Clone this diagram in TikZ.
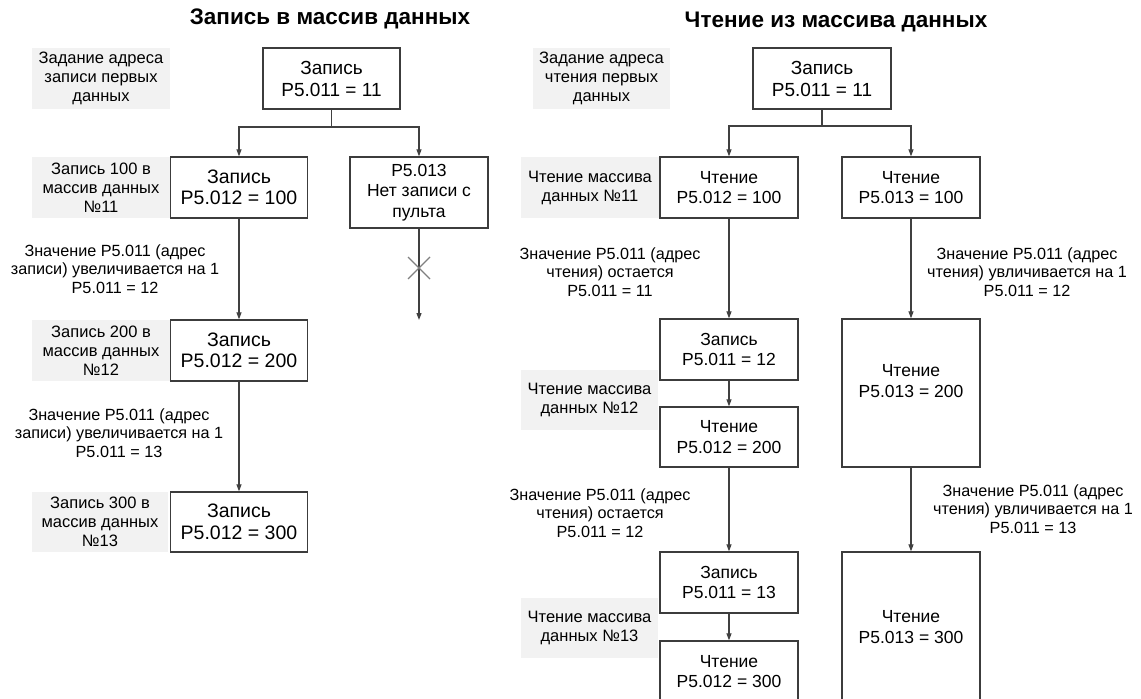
\documentclass[tikz,border=0pt]{standalone}
\usepackage{fontspec}
\setmainfont{Liberation Sans}
\usetikzlibrary{arrows.meta,calc}
\definecolor{boxc}{HTML}{3C3C3C}
\definecolor{linec}{HTML}{404040}
\definecolor{lblbg}{HTML}{F2F2F2}
\definecolor{xcol}{HTML}{808080}
\begin{document}
\begin{tikzpicture}[x=1pt,y=-1pt,
  box/.style={draw=boxc, line width=1.3pt, fill=white, align=center, inner sep=0pt, text=black},
  bigtxt/.style={font=\fontsize{19.5}{21.5}\selectfont},
  toptxt/.style={font=\fontsize{19}{22}\selectfont},
  midtxt/.style={font=\fontsize{17.5}{20.5}\selectfont},
  lbl/.style={fill=lblbg, align=center, inner sep=0pt, text=black, font=\fontsize{16.5}{19}\selectfont},
  elbl/.style={align=center, inner sep=0pt, text=black, font=\fontsize{16.2}{18.6}\selectfont},
  ttl/.style={inner sep=0pt, text=black, font=\fontsize{22.5}{26}\selectfont\bfseries},
  ln/.style={draw=linec, line width=1.2pt},
  arr/.style={draw=linec, line width=1.2pt, -{Triangle[length=7pt,width=5pt]}},
  xmark/.style={draw=xcol, line width=1.1pt}
]
\useasboundingbox (0,0) rectangle (1141,699);

% ---------------- left: write ----------------
\node[ttl] (titleL) at (330,18.5) {Запись в массив данных};

\node[box, toptxt, minimum width=137pt, minimum height=61pt] (L0) at (331.5,78.5) {Запись\\P5.011 = 11};
\node[lbl, minimum width=138pt, minimum height=61pt] (LL0) at (101,78.5) {Задание адреса\\записи первых\\данных};

\node[box, bigtxt, minimum width=137pt, minimum height=61pt] (L1) at (239,187.5) {Запись\\P5.012 = 100};
\node[lbl, minimum width=138pt, minimum height=61pt] (LL1) at (101,187.5) {Запись 100 в\\массив данных\\№11};
\node[box, midtxt, minimum width=138pt, minimum height=71pt] (L2) at (419,192.5) {P5.013\\Нет записи с\\пульта};

\coordinate (Lj) at (331.5,127);
\draw[ln] (L0.south) -- (Lj);
\draw[arr] (Lj) -| (L1.north);
\draw[arr] (Lj) -| (L2.north);

\coordinate (Lend) at (419,320);
\coordinate (Lx) at (419,268);
\draw[arr] (L2.south) -- (Lend);
\draw[xmark] ($(Lx)+(-11,-11)$) -- ($(Lx)+(11,11)$);
\draw[xmark] ($(Lx)+(-11,11)$) -- ($(Lx)+(11,-11)$);

\node[elbl] (EL1) at (115,269) {Значение P5.011 (адрес\\записи) увеличивается на 1\\P5.011 = 12};
\node[box, bigtxt, minimum width=137pt, minimum height=61pt] (L3) at (239,350.5) {Запись\\P5.012 = 200};
\node[lbl, minimum width=138pt, minimum height=61pt] (LL3) at (101,350.5) {Запись 200 в\\массив данных\\№12};
\draw[arr] (L1.south) -- (L3.north);

\node[elbl] (EL2) at (119,433) {Значение P5.011 (адрес\\записи) увеличивается на 1\\P5.011 = 13};
\node[box, bigtxt, minimum width=137pt, minimum height=60pt] (L4) at (239,522) {Запись\\P5.012 = 300};
\node[lbl, minimum width=136pt, minimum height=60pt] (LL4) at (100,522) {Запись 300 в\\массив данных\\№13};
\draw[arr] (L3.south) -- (L4.north);

% ---------------- right: read ----------------
\node[ttl] (titleR) at (836,22) {Чтение из массива данных};

\node[box, toptxt, minimum width=138pt, minimum height=61pt] (R0) at (822,78.5) {Запись\\P5.011 = 11};
\node[lbl, minimum width=137pt, minimum height=61pt] (RL0) at (601.5,78.5) {Задание адреса\\чтения первых\\данных};

\node[box, midtxt, minimum width=138pt, minimum height=61pt] (R1) at (729,187.5) {Чтение\\P5.012 = 100};
\node[box, midtxt, minimum width=138pt, minimum height=61pt] (R2) at (911,187.5) {Чтение\\P5.013 = 100};
\node[lbl, minimum width=138pt, minimum height=61pt] (RL1) at (590,187.5) {Чтение массива\\данных №11};

\coordinate (Rj) at (822,126);
\draw[ln] (R0.south) -- (Rj);
\draw[arr] (Rj) -| (R1.north);
\draw[arr] (Rj) -| (R2.north);

\node[elbl] (REL1a) at (610,272) {Значение P5.011 (адрес\\чтения) остается\\P5.011 = 11};
\node[elbl] (REL1b) at (1027,272) {Значение P5.011 (адрес\\чтения) увличивается на 1\\P5.011 = 12};

\node[box, midtxt, minimum width=138pt, minimum height=61pt] (R3) at (729,349.5) {Запись\\P5.011 = 12};
\node[box, midtxt, minimum width=138pt, minimum height=60pt] (R4) at (729,437) {Чтение\\P5.012 = 200};
\node[lbl, minimum width=137pt, minimum height=60pt] (RL2) at (589.5,400) {Чтение массива\\данных №12};
\node[box, midtxt, minimum width=138pt, minimum height=148pt] (R5) at (911,393) {Чтение\\P5.013 = 200\\[4pt]~};

\draw[arr] (R1.south) -- (R3.north);
\draw[arr] (R3.south) -- (R4.north);
\draw[arr] (R2.south) -- (R5.north);

\node[elbl] (REL2a) at (600,513) {Значение P5.011 (адрес\\чтения) остается\\P5.011 = 12};
\node[elbl] (REL2b) at (1033,509) {Значение P5.011 (адрес\\чтения) увличивается на 1\\P5.011 = 13};

\node[box, midtxt, minimum width=138pt, minimum height=61pt] (R6) at (729,582.5) {Запись\\P5.011 = 13};
\node[box, midtxt, minimum width=138pt, minimum height=61pt] (R7) at (729,671.5) {Чтение\\P5.012 = 300};
\node[lbl, minimum width=137pt, minimum height=60pt] (RL3) at (589.5,628) {Чтение массива\\данных №13};
\node[box, midtxt, minimum width=138pt, minimum height=150pt] (R8) at (911,627) {Чтение\\P5.013 = 300};

\draw[arr] (R4.south) -- (R6.north);
\draw[arr] (R6.south) -- (R7.north);
\draw[arr] (R5.south) -- (R8.north);
\end{tikzpicture}
\end{document}
